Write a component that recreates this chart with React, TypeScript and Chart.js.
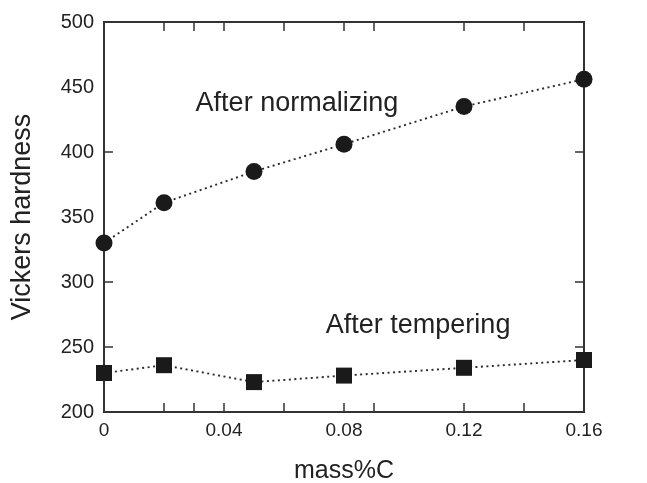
import React, { useEffect, useRef } from 'react';
import { Chart, registerables } from 'chart.js';

Chart.register(...registerables);

// ---- data ----
const carbonContent = [0, 0.02, 0.05, 0.08, 0.12, 0.16];
const hardnessNormalized = [330, 361, 385, 406, 435, 456];
const hardnessTempered = [230, 236, 223, 228, 234, 240];

const xTickValues = [0, 0.04, 0.08, 0.12, 0.16];
const xTickLabels = ['0', '0.04', '0.08', '0.12', '0.16'];
const yTickValues = [200, 250, 300, 350, 400, 450, 500];
const yTickLabels = ['200', '250', '300', '350', '400', '450', '500'];

const xInnerTicks = [0.02, 0.03, 0.04, 0.06, 0.08, 0.09, 0.12, 0.14];
const yInnerTicks = [250, 300, 400];

const annotationTexts = ['After normalizing', 'After tempering'];
const annotationX = [0.0643, 0.1047];
const annotationY = [431.5, 260.8];

const FONT = '"Liberation Sans", Arial, Helvetica, sans-serif';
const INK = '#222222';

const framePlugin = {
  id: 'frameTicks',
  beforeDatasetsDraw(chart: any) {
    const { ctx, chartArea: a, scales } = chart;
    const x = scales.x;
    const y = scales.y;
    ctx.save();
    ctx.strokeStyle = '#333333';
    ctx.lineWidth = 1.5;
    ctx.beginPath();
    const len = 9;
    for (const v of xInnerTicks) {
      const px = x.getPixelForValue(v);
      ctx.moveTo(px, a.bottom);
      ctx.lineTo(px, a.bottom - len);
      ctx.moveTo(px, a.top);
      ctx.lineTo(px, a.top + len);
    }
    for (const v of yInnerTicks) {
      const py = y.getPixelForValue(v);
      ctx.moveTo(a.left, py);
      ctx.lineTo(a.left + len, py);
      ctx.moveTo(a.right, py);
      ctx.lineTo(a.right - len, py);
    }
    ctx.stroke();
    ctx.lineWidth = 2;
    ctx.strokeRect(a.left, a.top, a.right - a.left, a.bottom - a.top);
    ctx.restore();
  },
  afterDatasetsDraw(chart: any) {
    const { ctx, scales } = chart;
    ctx.save();
    ctx.fillStyle = INK;
    ctx.font = `27px ${FONT}`;
    ctx.textAlign = 'center';
    ctx.textBaseline = 'alphabetic';
    annotationTexts.forEach((t, i) => {
      ctx.fillText(t, scales.x.getPixelForValue(annotationX[i]), scales.y.getPixelForValue(annotationY[i]));
    });
    ctx.restore();
  },
};

export default function App() {
  const canvasRef = useRef<HTMLCanvasElement | null>(null);

  useEffect(() => {
    document.body.style.margin = '0';
    const canvas = canvasRef.current;
    if (!canvas) return;
    const chart = new Chart(canvas, {
      type: 'line',
      data: {
        datasets: [
          {
            label: 'After normalizing',
            data: carbonContent.map((c, i) => ({ x: c, y: hardnessNormalized[i] })),
            borderColor: '#2a2a2a',
            borderWidth: 1.9,
            borderDash: [2, 3.5],
            backgroundColor: '#1a1a1a',
            pointStyle: 'circle',
            pointRadius: 8.5,
            pointBackgroundColor: '#1a1a1a',
            pointBorderColor: '#1a1a1a',
            pointBorderWidth: 0,
            tension: 0,
            clip: false as any,
          },
          {
            label: 'After tempering',
            data: carbonContent.map((c, i) => ({ x: c, y: hardnessTempered[i] })),
            borderColor: '#2a2a2a',
            borderWidth: 1.9,
            borderDash: [2, 3.5],
            backgroundColor: '#1a1a1a',
            pointStyle: 'rect',
            pointRadius: 11.3,
            pointBackgroundColor: '#1a1a1a',
            pointBorderColor: '#1a1a1a',
            pointBorderWidth: 0,
            tension: 0,
            clip: false as any,
          },
        ],
      },
      options: {
        responsive: false,
        animation: false,
        devicePixelRatio: 1,
        layout: { padding: { top: 22, right: 63, left: 0, bottom: 0 } },
        plugins: {
          legend: { display: false },
          tooltip: { enabled: false },
        },
        scales: {
          x: {
            type: 'linear',
            min: 0,
            max: 0.16,
            afterBuildTicks: (s: any) => {
              s.ticks = xTickValues.map((v) => ({ value: v }));
            },
            afterFit: (s: any) => {
              s.height = 71;
            },
            ticks: {
              autoSkip: false,
              maxRotation: 0,
              padding: 7,
              color: INK,
              font: { family: FONT, size: 19 },
              callback: (_v: any, i: number) => xTickLabels[i],
            },
            grid: { display: false, drawTicks: false },
            border: { display: false },
            title: {
              display: true,
              text: 'mass%C',
              color: INK,
              font: { family: FONT, size: 25 },
              padding: { top: 0, bottom: -3 },
            },
          },
          y: {
            type: 'linear',
            min: 200,
            max: 500,
            afterBuildTicks: (s: any) => {
              s.ticks = yTickValues.map((v) => ({ value: v }));
            },
            afterFit: (s: any) => {
              s.width = 104;
            },
            ticks: {
              autoSkip: false,
              padding: 10,
              color: INK,
              font: { family: FONT, size: 20 },
              callback: (_v: any, i: number) => yTickLabels[i],
            },
            grid: { display: false, drawTicks: false },
            border: { display: false },
            title: {
              display: true,
              text: 'Vickers hardness',
              color: INK,
              font: { family: FONT, size: 27 },
              padding: { top: 6, bottom: 0 },
            },
          },
        },
      },
      plugins: [framePlugin],
    });
    return () => chart.destroy();
  }, []);

  return (
    <div style={{ width: 647, height: 483, background: '#ffffff' }}>
      <canvas ref={canvasRef} width={647} height={483} style={{ display: 'block' }} />
    </div>
  );
}
